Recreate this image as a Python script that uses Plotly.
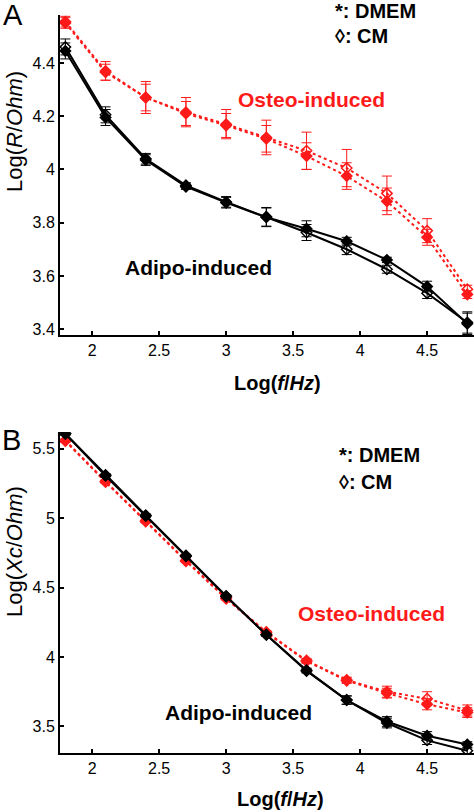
import plotly.graph_objects as go

freq = [1.8, 2.1, 2.4, 2.7, 3.0, 3.3, 3.6, 3.9, 4.2, 4.5, 4.8]

# Panel A: Log(R/Ohm)
osteo_dmem_R = [4.55, 4.365, 4.27, 4.21, 4.165, 4.115, 4.05, 3.975, 3.88, 3.745, 3.53]
osteo_dmem_R_err = [0.02, 0.03, 0.05, 0.045, 0.045, 0.05, 0.05, 0.05, 0.05, 0.03, 0.015]
osteo_cm_R = [4.555, 4.37, 4.27, 4.215, 4.17, 4.12, 4.07, 4.005, 3.91, 3.77, 3.55]
osteo_cm_R_err = [0.02, 0.035, 0.06, 0.055, 0.055, 0.065, 0.07, 0.07, 0.065, 0.045, 0.015]
adipo_dmem_R = [4.445, 4.195, 4.035, 3.935, 3.875, 3.82, 3.777, 3.73, 3.66, 3.56, 3.42]
adipo_dmem_R_err = [0.03, 0.03, 0.02, 0.01, 0.02, 0.035, 0.03, 0.015, 0.01, 0.02, 0.04]
adipo_cm_R = [4.46, 4.205, 4.04, 3.94, 3.878, 3.822, 3.763, 3.70, 3.625, 3.535, 3.425]
adipo_cm_R_err = [0.03, 0.03, 0.02, 0.01, 0.02, 0.035, 0.03, 0.02, 0.015, 0.02, 0.04]

# Panel B: Log(Xc/Ohm)
osteo_dmem_X = [5.555, 5.26, 4.976, 4.69, 4.42, 4.175, 3.97, 3.83, 3.74, 3.66, 3.60]
osteo_dmem_X_err = [0.01, 0.01, 0.01, 0.01, 0.01, 0.01, 0.015, 0.02, 0.035, 0.04, 0.035]
osteo_cm_X = [5.56, 5.265, 4.98, 4.695, 4.425, 4.18, 3.975, 3.835, 3.75, 3.70, 3.615]
osteo_cm_X_err = [0.01, 0.01, 0.01, 0.01, 0.01, 0.01, 0.015, 0.02, 0.04, 0.05, 0.04]
adipo_dmem_X = [5.607, 5.31, 5.02, 4.73, 4.44, 4.16, 3.905, 3.69, 3.536, 3.433, 3.37]
adipo_dmem_X_err = [0.01, 0.01, 0.01, 0.01, 0.01, 0.01, 0.015, 0.03, 0.035, 0.03, 0.02]
adipo_cm_X = [5.607, 5.305, 5.015, 4.725, 4.435, 4.16, 3.90, 3.69, 3.525, 3.40, 3.325]
adipo_cm_X_err = [0.01, 0.01, 0.01, 0.01, 0.01, 0.01, 0.015, 0.03, 0.035, 0.03, 0.02]

x_ticks = [2, 2.5, 3, 3.5, 4, 4.5]
yA_ticks = [3.4, 3.6, 3.8, 4, 4.2, 4.4]
yB_ticks = [3.5, 4, 4.5, 5, 5.5]

RED = "#ff1a1a"
BLACK = "#000000"
FONT = "Liberation Sans, Arial, sans-serif"

W, H = 474, 812

fig = go.Figure()


def add_series(y, err, color, dash, symbol, xa, ya):
    fig.add_trace(go.Scatter(
        x=freq, y=y, mode="lines+markers", xaxis=xa, yaxis=ya,
        line=dict(color=color, width=2, dash=dash),
        marker=dict(symbol=symbol, size=8, color=color,
                    line=dict(color=color, width=1.5)),
        error_y=dict(type="data", array=err, color=color, thickness=1, width=5),
        showlegend=False,
    ))


# Panel A
add_series(osteo_dmem_R, osteo_dmem_R_err, RED, "dot", "diamond", "x", "y")
add_series(osteo_cm_R, osteo_cm_R_err, RED, "dot", "diamond-open", "x", "y")
add_series(adipo_dmem_R, adipo_dmem_R_err, BLACK, "solid", "diamond", "x", "y")
add_series(adipo_cm_R, adipo_cm_R_err, BLACK, "solid", "diamond-open", "x", "y")
# Panel B
add_series(osteo_dmem_X, osteo_dmem_X_err, RED, "dot", "diamond", "x2", "y2")
add_series(osteo_cm_X, osteo_cm_X_err, RED, "dot", "diamond-open", "x2", "y2")
add_series(adipo_dmem_X, adipo_dmem_X_err, BLACK, "solid", "diamond", "x2", "y2")
add_series(adipo_cm_X, adipo_cm_X_err, BLACK, "solid", "diamond-open", "x2", "y2")

axis_common = dict(
    showline=True, linecolor="black", linewidth=2, mirror=False,
    ticks="inside", ticklen=4, tickwidth=1.5, tickcolor="black",
    showgrid=False, zeroline=False,
    tickfont=dict(family=FONT, size=16, color="black"),
    automargin=False,
)

xdom = [60 / W, 1.0]
fig.update_layout(
    width=W, height=H,
    margin=dict(l=0, r=0, t=0, b=0),
    paper_bgcolor="white", plot_bgcolor="white",
    xaxis=dict(domain=xdom, range=[1.76, 4.85], tickvals=x_ticks,
               ticktext=[str(t) for t in x_ticks], anchor="y", **axis_common),
    yaxis=dict(domain=[1 - 335 / H, 1 - 15 / H], range=[3.378, 4.58],
               tickvals=yA_ticks, ticktext=["3.4", "3.6", "3.8", "4", "4.2", "4.4"],
               anchor="x", **axis_common),
    xaxis2=dict(domain=xdom, range=[1.76, 4.85], tickvals=x_ticks,
                ticktext=[str(t) for t in x_ticks], anchor="y2", **axis_common),
    yaxis2=dict(domain=[1 - 753 / H, 1 - 432 / H], range=[3.309, 5.62],
                tickvals=yB_ticks, ticktext=["3.5", "4", "4.5", "5", "5.5"],
                anchor="x2", **axis_common),
)


def px_ann(text, x, y, size, color="black", xanchor="center", angle=0):
    fig.add_annotation(text=text, x=x / W, y=1 - y / H, xref="paper", yref="paper",
                       showarrow=False, xanchor=xanchor, yanchor="middle",
                       textangle=angle,
                       font=dict(family=FONT, size=size, color=color))


# panel letters
px_ann("A", 1, 15, 29, xanchor="left")
px_ann("B", 0, 440, 29, xanchor="left")
# legends
px_ann("<b>*: DMEM</b>", 333, 11, 20, xanchor="left")
px_ann("<b>◊: CM</b>", 333, 36, 20, xanchor="left")
px_ann("<b>*: DMEM</b>", 337, 455, 20, xanchor="left")
px_ann("<b>◊: CM</b>", 337, 482, 20, xanchor="left")
# group labels
px_ann("<b>Osteo-induced</b>", 311, 99, 21, color=RED)
px_ann("<b>Adipo-induced</b>", 198, 267, 21)
px_ann("<b>Osteo-induced</b>", 371, 613, 21, color=RED)
px_ann("<b>Adipo-induced</b>", 238, 712, 21)
# axis titles
px_ann("<b>Log(<i>f</i>/<i>Hz</i>)</b>", 277, 383, 20)
px_ann("<b>Log(<i>f</i>/<i>Hz</i>)</b>", 280, 799, 20)
px_ann("Log(<i>R</i>/<i>Ohm</i>)", 14, 132, 22, angle=-90)
px_ann("Log(<i>Xc</i>/<i>Ohm</i>)", 14, 552, 22, angle=-90)

fig.write_html(
    "out.html",
    config={"displayModeBar": False},
    post_script="document.body.style.margin='0';document.body.style.overflow='hidden';",
)
